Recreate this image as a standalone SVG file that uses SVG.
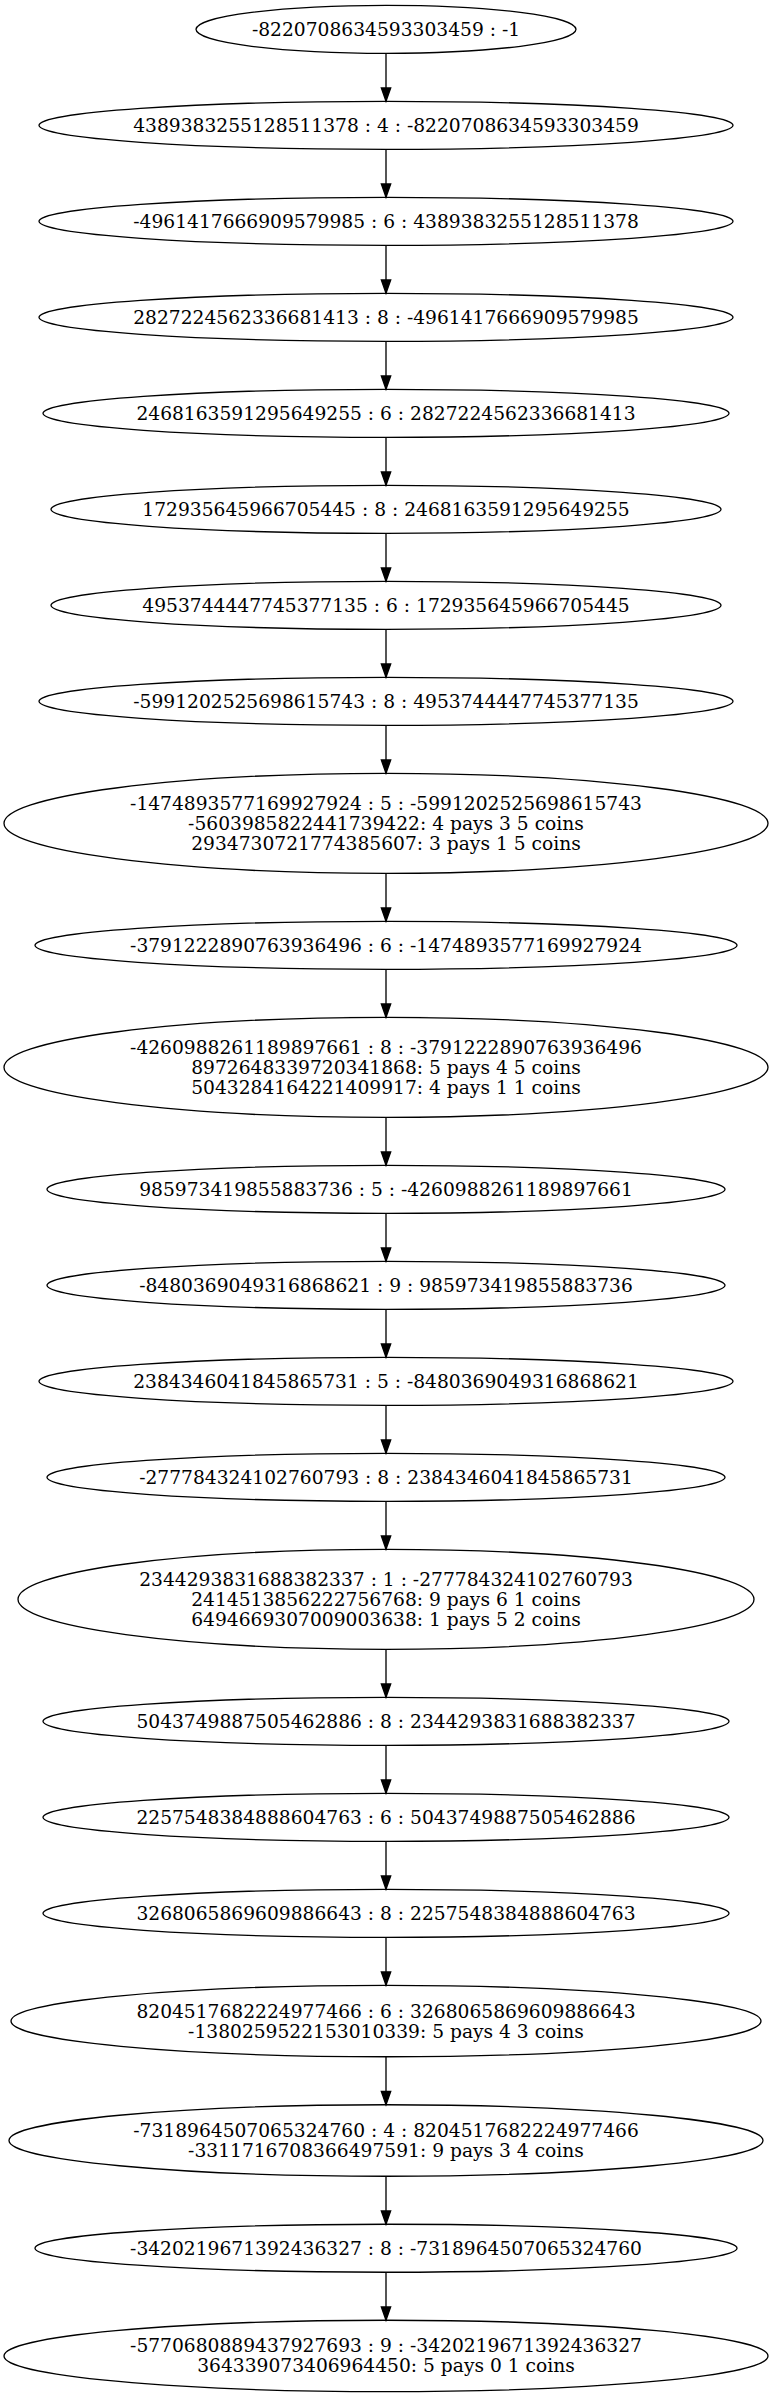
<svg xmlns="http://www.w3.org/2000/svg" width="772" height="2397" viewBox="0 0 772 2397">
<style>
.n ellipse{fill:none;stroke:#000;stroke-width:1.33}
.n text{font-family:"DejaVu Serif","Liberation Serif",serif;font-size:18.67px;text-anchor:middle;fill:#000}
#edges line{stroke:#000;stroke-width:1.33;marker-end:url(#ah)}
</style>
<defs>
<marker id="ah" viewBox="0 0 13.33 9.33" refX="13.33" refY="4.67" markerWidth="13.33" markerHeight="9.33" markerUnits="userSpaceOnUse" orient="auto" overflow="visible">
<path d="M0,0 L13.33,4.67 L0,9.33 Z" fill="#000" stroke="#000" stroke-width="1.33"/>
</marker>
</defs>
<rect width="772" height="2397" fill="#fff"/>
<g id="edges">
<line x1="386" y1="53.33" x2="386" y2="101.33"/>
<line x1="386" y1="149.33" x2="386" y2="197.33"/>
<line x1="386" y1="245.33" x2="386" y2="293.33"/>
<line x1="386" y1="341.33" x2="386" y2="389.33"/>
<line x1="386" y1="437.33" x2="386" y2="485.33"/>
<line x1="386" y1="533.33" x2="386" y2="581.33"/>
<line x1="386" y1="629.33" x2="386" y2="677.33"/>
<line x1="386" y1="725.33" x2="386" y2="773.33"/>
<line x1="386" y1="873.33" x2="386" y2="921.33"/>
<line x1="386" y1="969.33" x2="386" y2="1017.33"/>
<line x1="386" y1="1117.33" x2="386" y2="1165.33"/>
<line x1="386" y1="1213.33" x2="386" y2="1261.33"/>
<line x1="386" y1="1309.33" x2="386" y2="1357.33"/>
<line x1="386" y1="1405.33" x2="386" y2="1453.33"/>
<line x1="386" y1="1501.33" x2="386" y2="1549.33"/>
<line x1="386" y1="1649.33" x2="386" y2="1697.33"/>
<line x1="386" y1="1745.33" x2="386" y2="1793.33"/>
<line x1="386" y1="1841.33" x2="386" y2="1889.33"/>
<line x1="386" y1="1937.33" x2="386" y2="1985.33"/>
<line x1="386" y1="2056.77" x2="386" y2="2104.77"/>
<line x1="386" y1="2176.21" x2="386" y2="2224.21"/>
<line x1="386" y1="2272.21" x2="386" y2="2320.21"/>
</g>
<g id="n1" class="n"><ellipse cx="386" cy="29.33" rx="190" ry="24"/><text x="386" y="35.8">-8220708634593303459 : -1</text></g>
<g id="n2" class="n"><ellipse cx="386" cy="125.33" rx="347" ry="24"/><text x="386" y="131.8">4389383255128511378 : 4 : -8220708634593303459</text></g>
<g id="n3" class="n"><ellipse cx="386" cy="221.33" rx="347" ry="24"/><text x="386" y="227.8">-4961417666909579985 : 6 : 4389383255128511378</text></g>
<g id="n4" class="n"><ellipse cx="386" cy="317.33" rx="347" ry="24"/><text x="386" y="323.8">2827224562336681413 : 8 : -4961417666909579985</text></g>
<g id="n5" class="n"><ellipse cx="386" cy="413.33" rx="343" ry="24"/><text x="386" y="419.8">2468163591295649255 : 6 : 2827224562336681413</text></g>
<g id="n6" class="n"><ellipse cx="386" cy="509.33" rx="335" ry="24"/><text x="386" y="515.8">172935645966705445 : 8 : 2468163591295649255</text></g>
<g id="n7" class="n"><ellipse cx="386" cy="605.33" rx="335" ry="24"/><text x="386" y="611.8">4953744447745377135 : 6 : 172935645966705445</text></g>
<g id="n8" class="n"><ellipse cx="386" cy="701.33" rx="347" ry="24"/><text x="386" y="707.8">-5991202525698615743 : 8 : 4953744447745377135</text></g>
<g id="n9" class="n"><ellipse cx="386" cy="823.33" rx="382" ry="50"/><text x="386" y="809.8">-1474893577169927924 : 5 : -5991202525698615743</text><text x="386" y="829.8">-5603985822441739422: 4 pays 3 5 coins</text><text x="386" y="849.8">2934730721774385607: 3 pays 1 5 coins</text></g>
<g id="n10" class="n"><ellipse cx="386" cy="945.33" rx="351" ry="24"/><text x="386" y="951.8">-3791222890763936496 : 6 : -1474893577169927924</text></g>
<g id="n11" class="n"><ellipse cx="386" cy="1067.33" rx="382" ry="50"/><text x="386" y="1053.8">-4260988261189897661 : 8 : -3791222890763936496</text><text x="386" y="1073.8">8972648339720341868: 5 pays 4 5 coins</text><text x="386" y="1093.8">5043284164221409917: 4 pays 1 1 coins</text></g>
<g id="n12" class="n"><ellipse cx="386" cy="1189.33" rx="339" ry="24"/><text x="386" y="1195.8">985973419855883736 : 5 : -4260988261189897661</text></g>
<g id="n13" class="n"><ellipse cx="386" cy="1285.33" rx="339" ry="24"/><text x="386" y="1291.8">-8480369049316868621 : 9 : 985973419855883736</text></g>
<g id="n14" class="n"><ellipse cx="386" cy="1381.33" rx="347" ry="24"/><text x="386" y="1387.8">2384346041845865731 : 5 : -8480369049316868621</text></g>
<g id="n15" class="n"><ellipse cx="386" cy="1477.33" rx="339" ry="24"/><text x="386" y="1483.8">-277784324102760793 : 8 : 2384346041845865731</text></g>
<g id="n16" class="n"><ellipse cx="386" cy="1599.33" rx="368" ry="50"/><text x="386" y="1585.8">2344293831688382337 : 1 : -277784324102760793</text><text x="386" y="1605.8">2414513856222756768: 9 pays 6 1 coins</text><text x="386" y="1625.8">6494669307009003638: 1 pays 5 2 coins</text></g>
<g id="n17" class="n"><ellipse cx="386" cy="1721.33" rx="343" ry="24"/><text x="386" y="1727.8">5043749887505462886 : 8 : 2344293831688382337</text></g>
<g id="n18" class="n"><ellipse cx="386" cy="1817.33" rx="343" ry="24"/><text x="386" y="1823.8">2257548384888604763 : 6 : 5043749887505462886</text></g>
<g id="n19" class="n"><ellipse cx="386" cy="1913.33" rx="343" ry="24"/><text x="386" y="1919.8">3268065869609886643 : 8 : 2257548384888604763</text></g>
<g id="n20" class="n"><ellipse cx="386" cy="2021.05" rx="375" ry="35.72"/><text x="386" y="2017.5">8204517682224977466 : 6 : 3268065869609886643</text><text x="386" y="2037.5">-1380259522153010339: 5 pays 4 3 coins</text></g>
<g id="n21" class="n"><ellipse cx="386" cy="2140.49" rx="377" ry="35.72"/><text x="386" y="2137">-7318964507065324760 : 4 : 8204517682224977466</text><text x="386" y="2157">-3311716708366497591: 9 pays 3 4 coins</text></g>
<g id="n22" class="n"><ellipse cx="386" cy="2248.21" rx="351" ry="24"/><text x="386" y="2254.7">-3420219671392436327 : 8 : -7318964507065324760</text></g>
<g id="n23" class="n"><ellipse cx="386" cy="2355.93" rx="382" ry="35.72"/><text x="386" y="2351.9">-5770680889437927693 : 9 : -3420219671392436327</text><text x="386" y="2371.9">364339073406964450: 5 pays 0 1 coins</text></g>
</svg>
